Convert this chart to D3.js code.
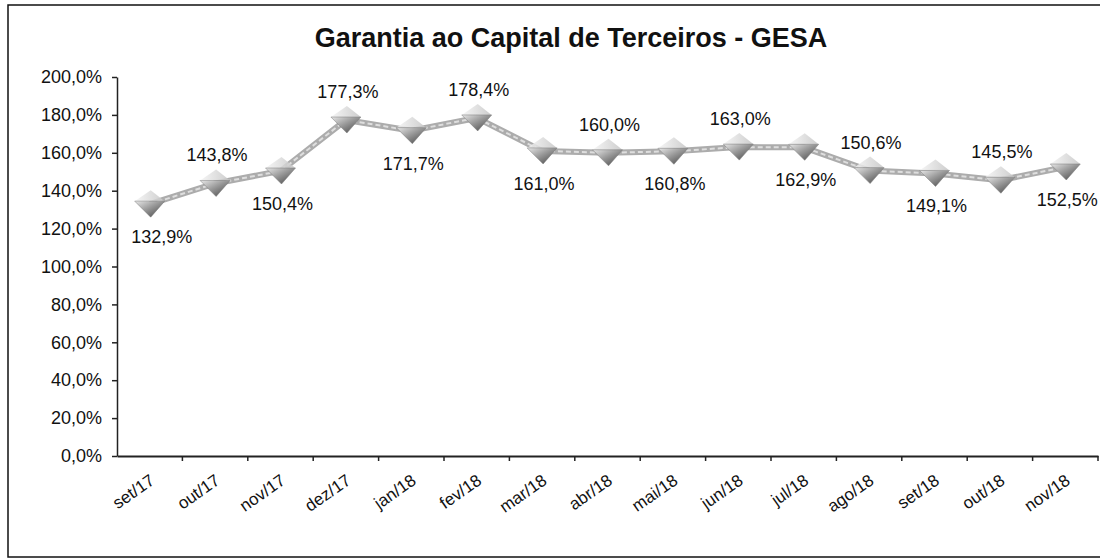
<!DOCTYPE html>
<html>
<head>
<meta charset="utf-8">
<script src="https://cdn.jsdelivr.net/npm/d3@7"></script>
<style>
  body { margin: 0; background: #fff; }
  svg { display: block; font-family: "Liberation Sans", Arial, sans-serif; }
</style>
</head>
<body>
<div id="main"></div>
<script>
const width = 1100, height = 560;

const months = ["set/17", "out/17", "nov/17", "dez/17", "jan/18", "fev/18", "mar/18", "abr/18",
    "mai/18", "jun/18", "jul/18", "ago/18", "set/18", "out/18", "nov/18"];
const values = [132.9, 143.8, 150.4, 177.3, 171.7, 178.4, 161.0, 160.0,
    160.8, 163.0, 162.9, 150.6, 149.1, 145.5, 152.5];
const yTicks = [0, 20, 40, 60, 80, 100, 120, 140, 160, 180, 200];

const margin = {top: 77, right: 2, bottom: 104, left: 117};

const fmt = v => d3.format(".1f")(v).replace(".", ",") + "%";

const svg = d3.select("#main").append("svg")
    .attr("width", width)
    .attr("height", height);

// gradients for the 3d-ish triangle markers
const defs = svg.append("defs");
const grad = defs.append("linearGradient")
    .attr("id", "tri")
    .attr("x1", "0").attr("y1", "0")
    .attr("x2", "1").attr("y2", "1");
grad.append("stop").attr("offset", "0%").attr("stop-color", "#e8e8e8");
grad.append("stop").attr("offset", "45%").attr("stop-color", "#9a9a9a");
grad.append("stop").attr("offset", "100%").attr("stop-color", "#3f3f3f");
const gradTop = defs.append("linearGradient")
    .attr("id", "triTop")
    .attr("x1", "0").attr("y1", "0")
    .attr("x2", "1").attr("y2", "0");
gradTop.append("stop").attr("offset", "0%").attr("stop-color", "#f4f4f4");
gradTop.append("stop").attr("offset", "100%").attr("stop-color", "#c4c4c4");

// outer frame
svg.append("rect")
    .attr("x", 8).attr("y", 5)
    .attr("width", 1100).attr("height", 552)
    .attr("fill", "none")
    .attr("stroke", "#111")
    .attr("stroke-width", 1.5);

svg.append("text")
    .attr("x", 571).attr("y", 47)
    .attr("text-anchor", "middle")
    .attr("font-size", 27)
    .attr("font-weight", "bold")
    .attr("fill", "#111")
    .text("Garantia ao Capital de Terceiros - GESA");

const x = d3.scaleBand()
    .domain(months)
    .range([margin.left, width - margin.right]);

const y = d3.scaleLinear()
    .domain([0, 200])
    .range([height - margin.bottom, margin.top]);

// y axis
const yAxis = svg.append("g")
    .attr("transform", `translate(${margin.left},0)`)
    .call(d3.axisLeft(y).tickValues(yTicks).tickFormat(fmt).tickSize(5).tickSizeOuter(0));
yAxis.selectAll("text").attr("font-size", 18).attr("fill", "#111").attr("dx", -7);
yAxis.selectAll("line, path").attr("stroke", "#222").attr("stroke-width", 1.5);

// x axis
const xAxis = svg.append("g")
    .attr("transform", `translate(0,${height - margin.bottom})`)
    .call(d3.axisBottom(x).tickSize(0).tickSizeOuter(0));
xAxis.select(".domain").attr("stroke", "#222").attr("stroke-width", 2);
xAxis.selectAll("text")
    .attr("font-size", 17)
    .attr("fill", "#111")
    .attr("text-anchor", "end")
    .attr("y", 0)
    .attr("dy", 0)
    .attr("transform", "translate(6,27) rotate(-35)");
// ticks on category boundaries
svg.append("g")
    .selectAll("line")
    .data(months)
    .join("line")
    .attr("x1", d => x(d) + x.bandwidth())
    .attr("x2", d => x(d) + x.bandwidth())
    .attr("y1", height - margin.bottom)
    .attr("y2", height - margin.bottom + 5)
    .attr("stroke", "#222")
    .attr("stroke-width", 1.5);

const cx = d => x(d) + x.bandwidth() / 2;
const pts = months.map((m, i) => ({m: m, v: values[i], i: i}));

const line = d3.line()
    .x(d => cx(d.m))
    .y(d => y(d.v));

svg.append("path")
    .datum(pts)
    .attr("fill", "none")
    .attr("stroke", "#acacac")
    .attr("stroke-width", 6)
    .attr("d", line);
svg.append("path")
    .datum(pts)
    .attr("fill", "none")
    .attr("stroke", "#dedede")
    .attr("stroke-width", 2)
    .attr("stroke-dasharray", "5,3")
    .attr("d", line);

// triangle markers: light upper tip, dark downward body
const mk = svg.append("g")
    .selectAll("g")
    .data(pts)
    .join("g")
    .attr("transform", d => `translate(${cx(d.m)},${y(d.v)})`);
mk.append("path")
    .attr("d", "M-15,-3 L1,-14 L15,-3 Z")
    .attr("fill", "url(#triTop)")
    .attr("opacity", 0.85);
mk.append("path")
    .attr("d", "M-15,-3 L15,-3 L1,13 Z")
    .attr("fill", "url(#tri)")
    .attr("stroke", "#7a7a7a")
    .attr("stroke-width", 0.5);

// data labels, alternating below / above
svg.append("g")
    .selectAll("text")
    .data(pts)
    .join("text")
    .attr("x", d => cx(d.m) + (d.i === 0 ? 12 : 2))
    .attr("y", d => y(d.v) + (d.i % 2 === 0 ? 39 : -22))
    .attr("text-anchor", "middle")
    .attr("font-size", 18)
    .attr("fill", "#111")
    .text(d => fmt(d.v));
</script>
</body>
</html>
